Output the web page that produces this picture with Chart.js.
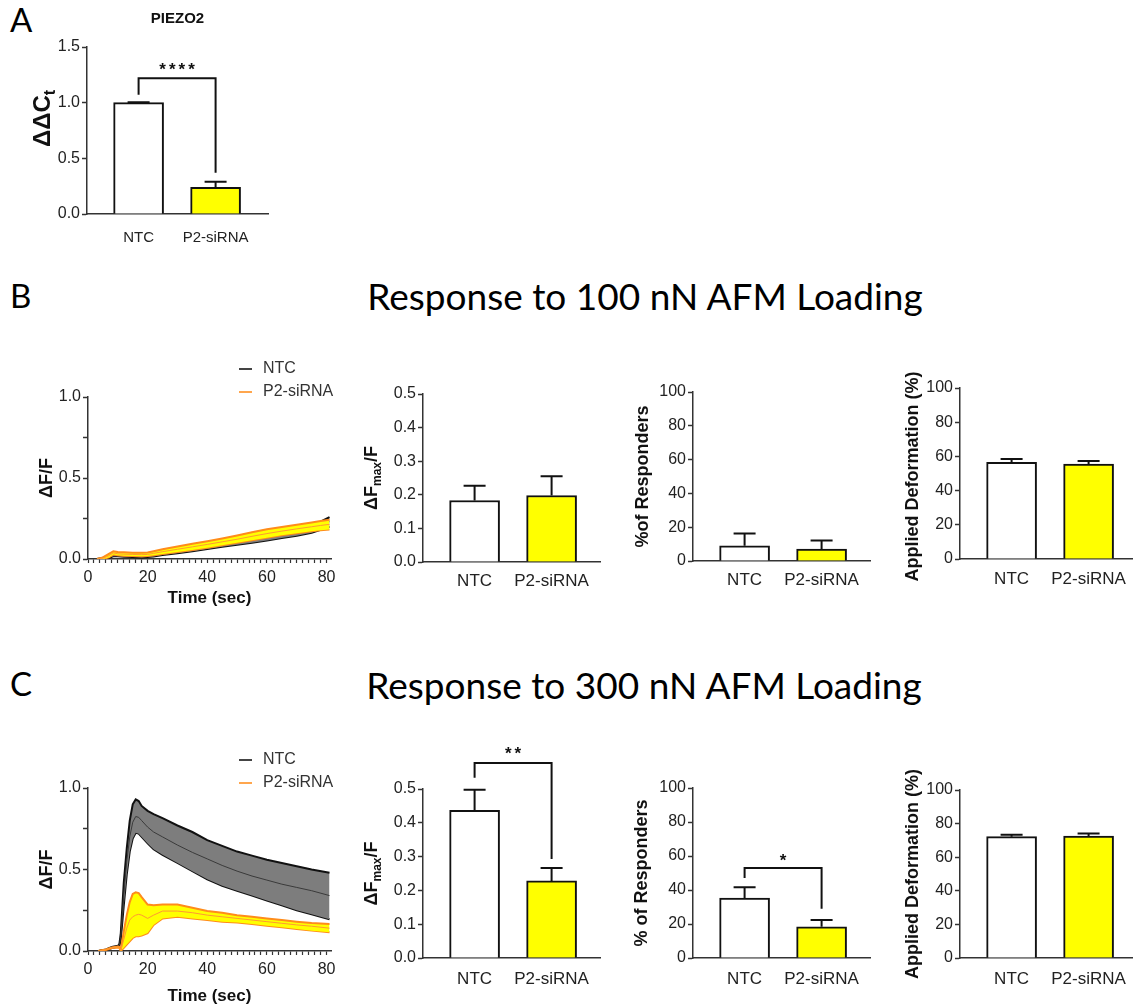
<!DOCTYPE html>
<html>
<head>
<meta charset="utf-8">
<script src="https://cdn.jsdelivr.net/npm/chart.js@4.4.1/dist/chart.umd.min.js"></script>
<style>
  body { margin: 0; width: 1133px; height: 1007px; overflow: hidden; background: #fff; position: relative; }
  canvas { position: absolute; }
  .lbl { position: absolute; font-family: Lato, 'Open Sans', sans-serif; line-height: 1; color: #000; white-space: nowrap; }
</style>
</head>
<body>
<div class="lbl" style="left:10px;top:3px;font-size:33px">A</div>
<div class="lbl" style="left:10px;top:279px;font-size:33px">B</div>
<div class="lbl" style="left:10px;top:667px;font-size:33px">C</div>
<div class="lbl" id="h1" style="left:645px;top:277px;font-size:37px;transform:translateX(-50%)"></div>
<div class="lbl" id="h2" style="left:644px;top:666px;font-size:37px;transform:translateX(-50%)"></div>
<script>
// ---- data ----
const groups = ['NTC', 'P2-siRNA'];
const headers = ['Response to 100 nN AFM Loading', 'Response to 300 nN AFM Loading'];

// A: qPCR
const ddctMean = [1.0, 0.24];
const ddctSem = [0.004, 0.05];

// B: 100 nN
const dfmax100 = [0.183, 0.198];
const dfmax100Sem = [0.044, 0.057];
const resp100 = [9, 7];
const resp100Sem = [7.3, 5.1];
const deform100 = [56.6, 55.5];
const deform100Sem = [1.9, 1.8];

// C: 300 nN
const dfmax300 = [0.437, 0.228];
const dfmax300Sem = [0.061, 0.038];
const resp300 = [35.3, 18.4];
const resp300Sem = [6.3, 4.0];
const deform300 = [72.2, 72.6];
const deform300Sem = [1.1, 1.5];

// significance brackets (value units): leg bottoms, bar top, star position
const sigA = { label: '****', left: 1.07, top: 1.22, right: 0.37, text: 1.33 };
const sigC1 = { label: '**', left: 0.533, top: 0.577, right: 0.293, text: 0.615 };
const sigC2 = { label: '*', left: 47, top: 53, right: 29, text: 59.5 };

// traces, 100 nN
const tB = [3, 5, 7, 8.5, 10, 12, 15, 18, 20, 22, 25, 30, 35, 40, 45, 50, 55, 60, 65, 70, 75, 78, 81];
const ntcB = [0, 0.003, 0.015, 0.025, 0.025, 0.022, 0.02, 0.018, 0.02, 0.025, 0.035, 0.048, 0.063, 0.078, 0.092, 0.105, 0.118, 0.132, 0.148, 0.165, 0.185, 0.205, 0.23];
const ntcBUp = [0, 0.008, 0.022, 0.033, 0.033, 0.03, 0.028, 0.026, 0.028, 0.035, 0.047, 0.062, 0.078, 0.094, 0.108, 0.122, 0.136, 0.15, 0.167, 0.186, 0.208, 0.23, 0.258];
const ntcBLo = [0, 0, 0.008, 0.017, 0.017, 0.014, 0.012, 0.01, 0.012, 0.016, 0.024, 0.035, 0.048, 0.062, 0.076, 0.088, 0.1, 0.114, 0.129, 0.144, 0.162, 0.18, 0.2];
const p2B = [0, 0.005, 0.02, 0.038, 0.032, 0.03, 0.028, 0.027, 0.028, 0.035, 0.045, 0.06, 0.075, 0.09, 0.106, 0.122, 0.14, 0.157, 0.172, 0.186, 0.199, 0.207, 0.214];
const p2BUp = [0, 0.01, 0.032, 0.048, 0.043, 0.041, 0.039, 0.038, 0.04, 0.048, 0.06, 0.077, 0.094, 0.11, 0.127, 0.145, 0.165, 0.183, 0.198, 0.212, 0.226, 0.234, 0.242];
const p2BLo = [0, 0, 0.01, 0.028, 0.023, 0.02, 0.018, 0.017, 0.018, 0.023, 0.031, 0.043, 0.056, 0.07, 0.085, 0.1, 0.116, 0.131, 0.146, 0.159, 0.172, 0.178, 0.182];

// traces, 300 nN
const tC = [3.5, 6, 8, 10, 10.5, 11, 12, 13, 14, 15, 16, 17, 18, 20, 22, 25, 30, 35, 40, 45, 50, 55, 60, 65, 70, 75, 81];
const ntcC = [0, 0.008, 0.022, 0.03, 0.035, 0.09, 0.35, 0.55, 0.7, 0.79, 0.825, 0.82, 0.8, 0.76, 0.73, 0.7, 0.65, 0.605, 0.565, 0.525, 0.49, 0.46, 0.435, 0.41, 0.39, 0.37, 0.34];
const ntcCUp = [0, 0.01, 0.025, 0.033, 0.038, 0.11, 0.42, 0.63, 0.8, 0.9, 0.93, 0.92, 0.89, 0.86, 0.84, 0.815, 0.77, 0.73, 0.68, 0.645, 0.61, 0.585, 0.56, 0.54, 0.52, 0.5, 0.48];
const ntcCLo = [0, 0.005, 0.018, 0.027, 0.032, 0.07, 0.28, 0.47, 0.61, 0.69, 0.725, 0.72, 0.7, 0.66, 0.625, 0.59, 0.54, 0.49, 0.44, 0.4, 0.37, 0.34, 0.31, 0.28, 0.25, 0.225, 0.195];
const p2C = [0, 0.008, 0.02, 0.025, 0.022, 0.005, 0.07, 0.14, 0.19, 0.21, 0.22, 0.225, 0.22, 0.2, 0.22, 0.245, 0.245, 0.235, 0.22, 0.21, 0.2, 0.19, 0.18, 0.17, 0.16, 0.152, 0.14];
const p2CUp = [0, 0.01, 0.022, 0.028, 0.025, 0.01, 0.12, 0.22, 0.3, 0.35, 0.36, 0.355, 0.33, 0.285, 0.28, 0.285, 0.285, 0.265, 0.245, 0.235, 0.22, 0.21, 0.2, 0.19, 0.18, 0.172, 0.165];
const p2CLo = [0, 0.006, 0.018, 0.022, 0.02, 0, 0.02, 0.04, 0.06, 0.08, 0.09, 0.09, 0.095, 0.11, 0.16, 0.2, 0.21, 0.2, 0.19, 0.18, 0.175, 0.165, 0.155, 0.145, 0.135, 0.125, 0.115];

// ---- layout / style ----
document.getElementById('h1').textContent = headers[0];
document.getElementById('h2').textContent = headers[1];

const FONT = "'Liberation Sans', Arial, sans-serif";
const AXIS = '#333';
Chart.defaults.font.family = FONT;
Chart.defaults.color = '#222';
Chart.defaults.animation = false;

const PAD = { yw: 75, top: 50, right: 12, xh: 60 };

// plot area rectangles [left, top, right, bottom] in page pixels
const AREA = {
  a: [87, 47, 268, 214],
  bLine: [88, 397, 331, 559],
  b1: [423, 394, 600, 562],
  b2: [693, 392, 870, 561],
  b3: [960, 388, 1133, 559],
  cLine: [88, 788, 331, 951],
  c1: [423, 789, 600, 958],
  c2: [693, 788, 870, 958],
  c3: [960, 790, 1133, 958]
};

function figPlugin(o) {
  return {
    id: 'fig',
    afterDatasetsDraw(chart) {
      if (!o.sem) return;
      const ctx = chart.ctx, xs = chart.scales.x, ys = chart.scales.y;
      ctx.save();
      ctx.strokeStyle = '#111';
      ctx.lineWidth = 2;
      chart.data.datasets[0].data.forEach((p, i) => {
        const x = xs.getPixelForValue(p.x);
        const y0 = ys.getPixelForValue(p.y), y1 = ys.getPixelForValue(p.y + o.sem[i]);
        ctx.beginPath();
        ctx.moveTo(x, y0); ctx.lineTo(x, y1);
        ctx.moveTo(x - 11, y1); ctx.lineTo(x + 11, y1);
        ctx.stroke();
      });
      ctx.restore();
    },
    afterDraw(chart) {
      const ctx = chart.ctx, a = chart.chartArea, xs = chart.scales.x, ys = chart.scales.y;
      // y title, may hold a subscript part
      if (o.yTitle) {
        ctx.save();
        ctx.translate(a.left - o.yOff, (a.top + a.bottom) / 2 + (o.yShift || 0));
        ctx.rotate(-Math.PI / 2);
        const big = `bold ${o.ySize}px ${FONT}`, small = `bold ${Math.round(o.ySize * 0.68)}px ${FONT}`;
        const widths = o.yTitle.map(p => { ctx.font = p.sub ? small : big; return ctx.measureText(p.t).width; });
        let x = -widths.reduce((s, w) => s + w, 0) / 2;
        ctx.fillStyle = '#111';
        ctx.textBaseline = 'middle';
        o.yTitle.forEach((p, i) => {
          ctx.font = p.sub ? small : big;
          ctx.fillText(p.t, x, p.sub ? o.ySize * 0.32 : 0);
          x += widths[i];
        });
        ctx.restore();
      }
      ctx.save();
      ctx.fillStyle = '#111';
      ctx.textAlign = 'center';
      ctx.textBaseline = 'middle';
      if (o.xTitle) {
        ctx.font = `bold 17px ${FONT}`;
        ctx.fillText(o.xTitle, (a.left + a.right) / 2, a.bottom + o.xOff);
      }
      if (o.title) {
        ctx.font = `bold 15px ${FONT}`;
        ctx.fillText(o.title, (a.left + a.right) / 2, a.top - 28);
      }
      if (o.sig) {
        const s = o.sig;
        const x0 = xs.getPixelForValue(0), x1 = xs.getPixelForValue(1);
        ctx.strokeStyle = '#111';
        ctx.lineWidth = 2;
        ctx.beginPath();
        ctx.moveTo(x0, ys.getPixelForValue(s.left));
        ctx.lineTo(x0, ys.getPixelForValue(s.top));
        ctx.lineTo(x1, ys.getPixelForValue(s.top));
        ctx.lineTo(x1, ys.getPixelForValue(s.right));
        ctx.stroke();
        ctx.font = `bold 17px ${FONT}`;
        ctx.letterSpacing = '3px';
        ctx.fillText(s.label, (x0 + x1) / 2 + 1.5, ys.getPixelForValue(s.text) + 4);
        ctx.letterSpacing = '0px';
      }
      if (o.legend) {
        ctx.textAlign = 'left';
        ctx.font = `16px ${FONT}`;
        o.legend.forEach((it, i) => {
          const y = a.top + [-28, -5][i];
          ctx.strokeStyle = it.color;
          ctx.lineWidth = 2;
          ctx.beginPath();
          ctx.moveTo(a.left + 151, y); ctx.lineTo(a.left + 164, y);
          ctx.stroke();
          ctx.fillStyle = '#333';
          ctx.fillText(it.label, a.left + 175, y);
        });
      }
      ctx.restore();
    }
  };
}

function addChart(area, config, o) {
  const [l, t, r, b] = area;
  const cv = document.createElement('canvas');
  cv.width = r - l + PAD.yw + PAD.right;
  cv.height = b - t + PAD.top + PAD.xh;
  cv.style.left = (l - PAD.yw) + 'px';
  cv.style.top = (t - PAD.top) + 'px';
  document.body.appendChild(cv);
  config.options.responsive = false;
  config.options.layout = { padding: { top: PAD.top, right: PAD.right, left: 0, bottom: 0 } };
  config.options.plugins = { legend: { display: false }, tooltip: { enabled: false } };
  config.plugins = [figPlugin(o)];
  return new Chart(cv, config);
}

function yAxis(max, step, fmt) {
  return {
    min: 0, max: max,
    border: { color: AXIS, width: 1.5 },
    grid: { drawOnChartArea: false, color: AXIS, tickLength: 5, tickWidth: 1.5 },
    ticks: { stepSize: step, autoSkip: false, padding: 2, color: '#222', font: { size: 16 }, callback: fmt },
    afterFit(s) { s.width = PAD.yw; }
  };
}

function catAxis(area, pad, size) {
  return {
    type: 'linear', bounds: 'data', offset: false,
    min: -0.67, max: (area[2] - area[0]) / 77 - 0.67,
    border: { color: AXIS, width: 1.5 },
    grid: { display: false, drawTicks: false, offset: false },
    ticks: {
      autoSkip: false, maxRotation: 0, padding: pad,
      color: '#222', font: { size: size },
      callback: v => (groups[v] !== undefined ? groups[v] : '')
    },
    // one tick per group, at the bar centres
    afterBuildTicks(s) { s.ticks = groups.map((g, i) => ({ value: i })); },
    afterFit(s) { s.height = PAD.xh; }
  };
}

const fmt1 = v => v.toFixed(1);
const fmt0 = v => String(Math.round(v));

function barChart(area, vals, sem, yMax, yStep, fmt, o, pad, size) {
  return addChart(area, {
    type: 'bar',
    data: {
      datasets: [{
        data: vals.map((v, i) => ({ x: i, y: v })),
        backgroundColor: ['#ffffff', '#ffff00'],
        borderColor: '#111',
        borderWidth: 2,
        barThickness: 50
      }]
    },
    options: { scales: { x: catAxis(area, pad, size), y: yAxis(yMax, yStep, fmt) } }
  }, Object.assign({ sem: sem }, o));
}

function bandSets(t, m, up, lo, st, ord, label) {
  const pts = arr => t.map((x, i) => ({ x: x, y: arr[i] }));
  return [
    { data: pts(up), borderColor: st.edge, borderWidth: st.ew, backgroundColor: st.fill, fill: '+1', pointRadius: 0, order: ord },
    { data: pts(lo), borderColor: st.edge, borderWidth: st.ew, fill: false, pointRadius: 0, order: ord },
    { label: label, data: pts(m), borderColor: st.mid, borderWidth: 1, fill: false, pointRadius: 0, order: ord - 0.5 }
  ];
}

const ntcStyle = { fill: '#7d7d7d', edge: '#111', ew: 2, mid: '#3a3a3a' };
const p2Style = { fill: '#ffff00', edge: '#ff8c1a', ew: 2, mid: '#ff9933' };
const legendItems = [{ label: groups[0], color: '#444' }, { label: groups[1], color: '#ffa64d' }];

function lineChart(area, t, ntc, p2, xOff) {
  return addChart(area, {
    type: 'line',
    data: {
      datasets: bandSets(t, ntc[0], ntc[1], ntc[2], ntcStyle, 3, groups[0])
        .concat(bandSets(t, p2[0], p2[1], p2[2], p2Style, 1, groups[1]))
    },
    options: {
      scales: {
        x: {
          type: 'linear', bounds: 'data', min: 0, max: 81.5,
          border: { color: AXIS, width: 1.5 },
          grid: { drawOnChartArea: false, color: AXIS, tickLength: 4, tickWidth: 1.2 },
          ticks: { stepSize: 2, includeBounds: false, autoSkip: false, maxRotation: 0, padding: 5, color: '#222', font: { size: 16 },
            callback: v => (v % 20 === 0 ? String(v) : '') },
          afterFit(s) { s.height = PAD.xh; }
        },
        y: yAxis(1, 0.25, v => (Math.abs(v * 2 - Math.round(v * 2)) < 1e-9 ? v.toFixed(1) : ''))
      }
    }
  }, {
    yTitle: [{ t: 'ΔF/F' }], ySize: 18, yOff: 41,
    xTitle: 'Time (sec)', xOff: xOff,
    legend: legendItems
  });
}

const dfTitle = [{ t: 'ΔF' }, { t: 'max', sub: true }, { t: '/F' }];

// A
barChart(AREA.a, ddctMean, ddctSem, 1.5, 0.5, fmt1,
  { title: 'PIEZO2', sig: sigA, yTitle: [{ t: 'ΔΔC' }, { t: 't', sub: true }], ySize: 24, yOff: 44, yShift: -12 }, 15, 15);

// B
lineChart(AREA.bLine, tB, [ntcB, ntcBUp, ntcBLo], [p2B, p2BUp, p2BLo], 39);
barChart(AREA.b1, dfmax100, dfmax100Sem, 0.5, 0.1, fmt1, { yTitle: dfTitle, ySize: 18, yOff: 51 }, 9, 17);
barChart(AREA.b2, resp100, resp100Sem, 100, 20, fmt0, { yTitle: [{ t: '%of Responders' }], ySize: 18, yOff: 50 }, 9, 17);
barChart(AREA.b3, deform100, deform100Sem, 100, 20, fmt0, { yTitle: [{ t: 'Applied Deformation (%)' }], ySize: 18, yOff: 47, yShift: 3 }, 10, 17);

// C
lineChart(AREA.cLine, tC, [ntcC, ntcCUp, ntcCLo], [p2C, p2CUp, p2CLo], 45);
barChart(AREA.c1, dfmax300, dfmax300Sem, 0.5, 0.1, fmt1, { yTitle: dfTitle, ySize: 18, yOff: 51, sig: sigC1 }, 11, 17);
barChart(AREA.c2, resp300, resp300Sem, 100, 20, fmt0, { yTitle: [{ t: '% of Responders' }], ySize: 18, yOff: 51, sig: sigC2 }, 11, 17);
barChart(AREA.c3, deform300, deform300Sem, 100, 20, fmt0, { yTitle: [{ t: 'Applied Deformation (%)' }], ySize: 18, yOff: 47 }, 11, 17);
</script>
</body>
</html>
